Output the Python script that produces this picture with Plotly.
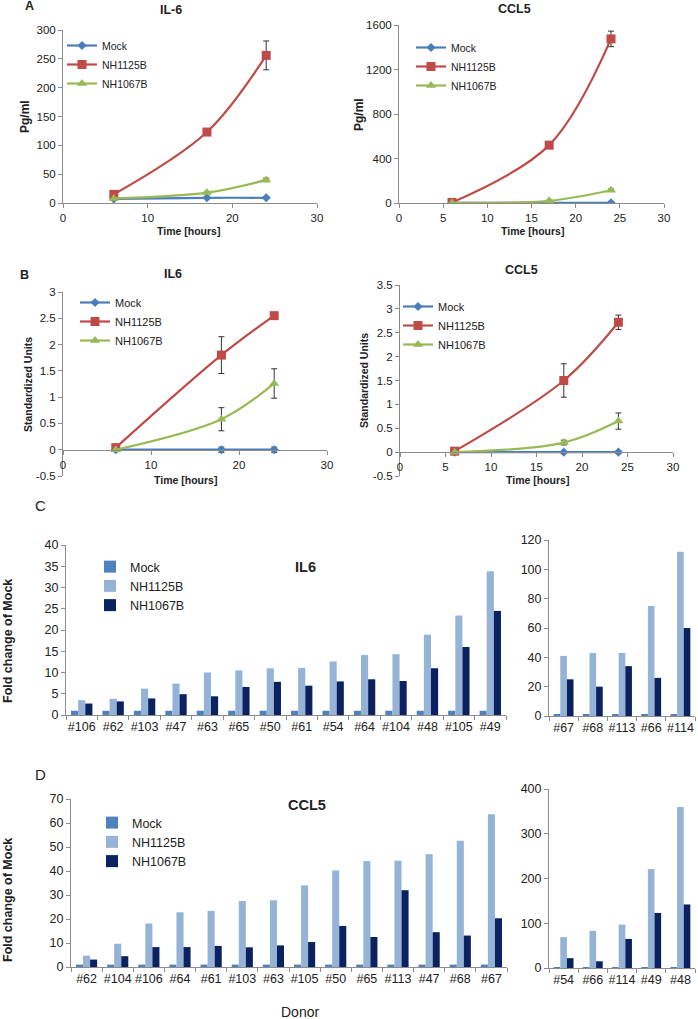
import plotly.graph_objects as go

# ---------------- data ----------------
series_names = ["Mock", "NH1125B", "NH1067B"]

time_a = [6, 17, 24]
a_il6_mock = [7, 9, 9]
a_il6_mock_err = [0, 1, 1]
a_il6_nh1125 = [15, 123, 256]
a_il6_nh1125_err = [2, 3, 25]
a_il6_nh1067 = [8, 18, 40]
a_il6_nh1067_err = [1, 2, 3]

a_ccl5_mock = [2, 2, 2]
a_ccl5_mock_err = [0, 1, 1]
a_ccl5_nh1125 = [5, 520, 1475]
a_ccl5_nh1125_err = [5, 20, 70]
a_ccl5_nh1067 = [2, 20, 115]
a_ccl5_nh1067_err = [1, 5, 10]

time_b = [6, 18, 24]
b_il6_mock = [0, 0, 0]
b_il6_mock_err = [0, 0.05, 0.05]
b_il6_nh1125 = [0.04, 1.8, 2.55]
b_il6_nh1125_err = [0, 0.35, 0.05]
b_il6_nh1067 = [0, 0.58, 1.26]
b_il6_nh1067_err = [0, 0.22, 0.28]

b_ccl5_mock = [0, 0, 0]
b_ccl5_mock_err = [0, 0.02, 0.02]
b_ccl5_nh1125 = [0.02, 1.5, 2.72]
b_ccl5_nh1125_err = [0, 0.35, 0.15]
b_ccl5_nh1067 = [0, 0.2, 0.65]
b_ccl5_nh1067_err = [0, 0.05, 0.17]

b_il6_yticks = [-0.5, 0, 0.5, 1, 1.5, 2, 2.5, 3]
b_il6_yticktext = ["-0.5", "0", "0.5", "1", "1.5", "2", "2.5", "3"]
b_ccl5_yticks = [-0.5, 0, 0.5, 1, 1.5, 2, 2.5, 3, 3.5]
b_ccl5_yticktext = ["-0.5", "0", "0.5", "1", "1.5", "2", "2.5", "3", "3.5"]

c_left_donors = ["#106", "#62", "#103", "#47", "#63", "#65", "#50", "#61", "#54",
                 "#64", "#104", "#48", "#105", "#49"]
c_left_mock = [1] * 14
c_left_nh1125 = [3.5, 3.8, 6.2, 7.4, 10, 10.5, 11, 11.1, 12.6, 14.1, 14.3, 18.9, 23.4, 33.8]
c_left_nh1067 = [2.7, 3.2, 3.9, 4.9, 4.4, 6.6, 7.8, 6.9, 7.9, 8.4, 8.0, 11, 16, 24.5]

c_right_donors = ["#67", "#68", "#113", "#66", "#114"]
c_right_mock = [1] * 5
c_right_nh1125 = [41, 43, 43, 75, 112]
c_right_nh1067 = [25, 20, 34, 26, 60]

d_left_donors = ["#62", "#104", "#106", "#64", "#61", "#103", "#63", "#105", "#50",
                 "#65", "#113", "#47", "#68", "#67"]
d_left_mock = [1] * 14
d_left_nh1125 = [4.7, 9.7, 18.1, 22.8, 23.4, 27.5, 27.8, 34, 40.2, 44.1, 44.3, 47, 52.6, 63.6]
d_left_nh1067 = [3.1, 4.5, 8.3, 8.3, 8.8, 8.2, 9, 10.4, 17.1, 12.5, 32, 14.5, 13.1, 20.3]

d_right_donors = ["#54", "#66", "#114", "#49", "#48"]
d_right_mock = [1] * 5
d_right_nh1125 = [69, 83, 97, 221, 360]
d_right_nh1067 = [22, 15, 65, 123, 142]

# ---------------- style ----------------
W, H = 698, 1019
FONT = "Liberation Sans, Arial, sans-serif"
LINE_COLORS = ["#4A7EBB", "#BE4B48", "#98B954"]
BAR_COLORS = ["#4F81BD", "#95B3D7", "#0B2260"]
SYMBOLS = ["diamond", "square", "triangle-up"]
MSIZE = [7, 9, 9]
AX = "#8c8c8c"


def X(px):
    return px / W


def Y(py):
    return 1 - py / H


fig = go.Figure()


def add_lines(xs, ys_list, errs_list, xa, ya, legend):
    for i, (ys, es) in enumerate(zip(ys_list, errs_list)):
        fig.add_trace(go.Scatter(
            x=xs, y=ys, name=series_names[i], mode="lines+markers",
            line=dict(color=LINE_COLORS[i], width=2.2, shape="spline", smoothing=1),
            marker=dict(symbol=SYMBOLS[i], size=MSIZE[i], color=LINE_COLORS[i]),
            error_y=dict(type="data", array=es, visible=True, color="#333333",
                         thickness=1, width=3),
            xaxis=xa, yaxis=ya, legend=legend,
        ))


def add_bars(cats, vals_list, xa, ya, legend, showlegend):
    for i, vals in enumerate(vals_list):
        fig.add_trace(go.Bar(
            x=cats, y=vals, name=series_names[i], marker=dict(color=BAR_COLORS[i], line=dict(width=0)),
            xaxis=xa, yaxis=ya, legend=legend, showlegend=showlegend,
        ))


add_lines(time_a, [a_il6_mock, a_il6_nh1125, a_il6_nh1067],
          [a_il6_mock_err, a_il6_nh1125_err, a_il6_nh1067_err], "x", "y", "legend")
add_lines(time_a, [a_ccl5_mock, a_ccl5_nh1125, a_ccl5_nh1067],
          [a_ccl5_mock_err, a_ccl5_nh1125_err, a_ccl5_nh1067_err], "x2", "y2", "legend2")
add_lines(time_b, [b_il6_mock, b_il6_nh1125, b_il6_nh1067],
          [b_il6_mock_err, b_il6_nh1125_err, b_il6_nh1067_err], "x3", "y3", "legend3")
add_lines(time_b, [b_ccl5_mock, b_ccl5_nh1125, b_ccl5_nh1067],
          [b_ccl5_mock_err, b_ccl5_nh1125_err, b_ccl5_nh1067_err], "x4", "y4", "legend4")

add_bars(c_left_donors, [c_left_mock, c_left_nh1125, c_left_nh1067], "x5", "y5", "legend5", True)
add_bars(c_right_donors, [c_right_mock, c_right_nh1125, c_right_nh1067], "x6", "y6", "legend5", False)
add_bars(d_left_donors, [d_left_mock, d_left_nh1125, d_left_nh1067], "x7", "y7", "legend6", True)
add_bars(d_right_donors, [d_right_mock, d_right_nh1125, d_right_nh1067], "x8", "y8", "legend6", False)


def axis(domain, size, **kw):
    d = dict(domain=domain, showline=True, linecolor=AX, linewidth=1, ticks="outside",
             ticklen=4, tickcolor=AX, showgrid=False, zeroline=False, automargin=False,
             tickfont=dict(family=FONT, size=size, color="#222222"), fixedrange=True)
    d.update(kw)
    return d


layout = dict(
    width=W, height=H, margin=dict(l=0, r=0, t=0, b=0, pad=0, autoexpand=False),
    paper_bgcolor="white", plot_bgcolor="white",
    font=dict(family=FONT, color="#222222"),
    barmode="group", bargap=0.32, bargroupgap=0,
)

# A
layout["xaxis"] = axis([X(63), X(317)], 11.5, range=[0, 30], dtick=10, anchor="y")
layout["yaxis"] = axis([Y(203), Y(30)], 11.5, range=[0, 300], dtick=50, anchor="x")
layout["xaxis2"] = axis([X(399), X(664)], 11.5, range=[0, 30], dtick=5, anchor="y2")
layout["yaxis2"] = axis([Y(203), Y(25)], 11.5, range=[0, 1600], dtick=400, anchor="x2")
# B
layout["xaxis3"] = axis([X(63), X(327)], 11.5, range=[0, 30], dtick=10, anchor="free",
                        position=Y(450))
layout["yaxis3"] = axis([Y(476), Y(292)], 11.5, range=[-0.5, 3], tickvals=b_il6_yticks,
                        ticktext=b_il6_yticktext, anchor="x3")
layout["xaxis4"] = axis([X(400), X(673)], 11.5, range=[0, 30], dtick=5, anchor="free",
                        position=Y(452))
layout["yaxis4"] = axis([Y(476), Y(285)], 11.5, range=[-0.5, 3.5], tickvals=b_ccl5_yticks,
                        ticktext=b_ccl5_yticktext, anchor="x4")
# C
cat_kw = dict(type="category", tickson="boundaries", tickangle=0)
layout["xaxis5"] = axis([X(66), X(506)], 12.5, anchor="y5", **cat_kw)
layout["yaxis5"] = axis([Y(715), Y(545)], 12.5, range=[0, 40], dtick=5, anchor="x5")
layout["xaxis6"] = axis([X(549), X(695)], 12.5, anchor="y6", **cat_kw)
layout["yaxis6"] = axis([Y(716), Y(540)], 12.5, range=[0, 120], dtick=20, anchor="x6")
# D
layout["xaxis7"] = axis([X(71), X(507)], 12.5, anchor="y7", **cat_kw)
layout["yaxis7"] = axis([Y(967), Y(799)], 12.5, range=[0, 70], dtick=10, anchor="x7")
layout["xaxis8"] = axis([X(549), X(695)], 12.5, anchor="y8", **cat_kw)
layout["yaxis8"] = axis([Y(968), Y(789)], 12.5, range=[0, 400], dtick=100, anchor="x8")


def leg(xp, yp, size):
    return dict(x=X(xp), y=Y(yp), xanchor="left", yanchor="top", bgcolor="rgba(0,0,0,0)",
                borderwidth=0, font=dict(family=FONT, size=size, color="#222222"),
                itemwidth=30, tracegroupgap=0)


layout["legend"] = leg(62, 31, 10.5)
layout["legend2"] = leg(411, 33, 10.5)
layout["legend3"] = leg(75, 288, 11)
layout["legend4"] = leg(398, 292, 11)
layout["legend5"] = leg(90, 552, 12.5)
layout["legend6"] = leg(92, 808, 12.5)

fig.update_layout(**layout)


def ann(text, xp, yp, size, bold=False, angle=0):
    fig.add_annotation(text=f"<b>{text}</b>" if bold else text, x=X(xp), y=Y(yp),
                       xref="paper", yref="paper", showarrow=False, textangle=angle,
                       xanchor="center", yanchor="middle",
                       font=dict(family=FONT, size=size, color="#222222"))


# panel letters
ann("A", 30, 6, 12.5, bold=True)
ann("B", 24, 275, 12.5, bold=True)
ann("C", 40, 505, 15)
ann("D", 40, 774, 15)
# titles
ann("IL-6", 171, 10, 12.5, bold=True)
ann("CCL5", 514, 9, 12.5, bold=True)
ann("IL6", 173, 274, 12.5, bold=True)
ann("CCL5", 521, 270, 12.5, bold=True)
ann("IL6", 305, 567, 14.5, bold=True)
ann("CCL5", 307, 805, 14.5, bold=True)
# axis titles
ann("Time [hours]", 188, 231, 10.5, bold=True)
ann("Time [hours]", 532, 231, 10.5, bold=True)
ann("Time [hours]", 185, 480, 10.5, bold=True)
ann("Time [hours]", 537, 480, 10.5, bold=True)
ann("Pg/ml", 25, 117, 12, bold=True, angle=-90)
ann("Pg/ml", 359, 115, 12, bold=True, angle=-90)
ann("Standardized Units", 28, 385, 10.5, bold=True, angle=-90)
ann("Standardized Units", 364, 380, 10.5, bold=True, angle=-90)
ann("Fold change of Mock", 8, 641, 12.5, bold=True, angle=-90)
ann("Fold change of Mock", 8, 900, 12.5, bold=True, angle=-90)
ann("Donor", 300, 1012, 14)

fig.write_html(
    "out.html",
    config={"displayModeBar": False},
    post_script="document.body.style.margin='0';document.body.style.overflow='hidden';",
)
